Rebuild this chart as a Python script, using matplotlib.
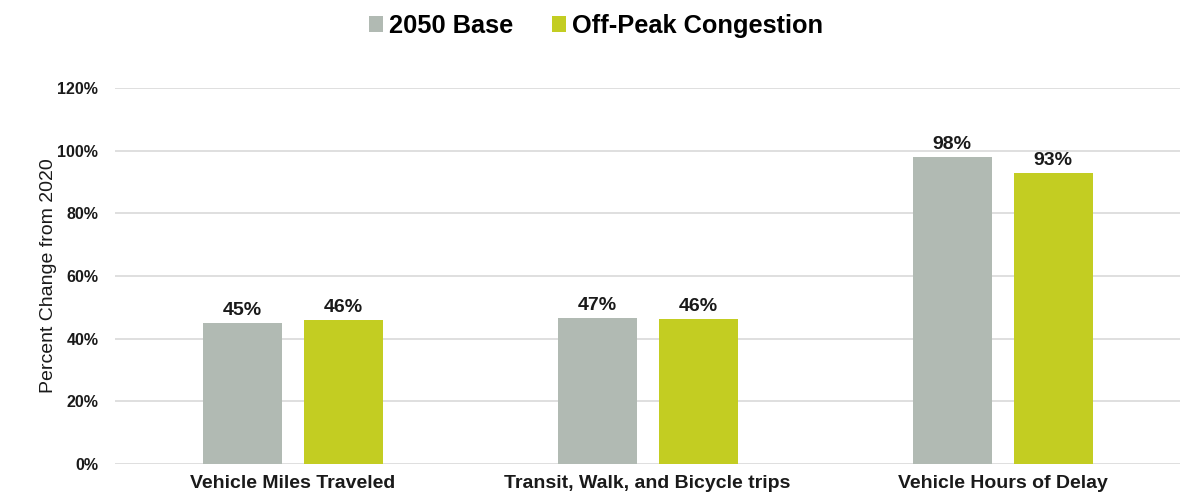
import matplotlib.pyplot as plt
import numpy as np

plt.rcParams['font.family'] = ['Liberation Sans', 'DejaVu Sans']

categories = ['Vehicle Miles Traveled', 'Transit, Walk, and Bicycle trips', 'Vehicle Hours of Delay']
base_2050 = [0.45, 0.467, 0.98]
off_peak = [0.46, 0.463, 0.93]
series_names = ['2050 Base', 'Off-Peak Congestion']
series_colors = ['#B1BAB3', '#C3CD22']
yticks = [0, 0.2, 0.4, 0.6, 0.8, 1.0, 1.2]

fig = plt.figure(figsize=(11.92, 4.99), dpi=100)
ax = fig.add_axes([0.0965, 0.0701, 0.8935, 0.7535])

x = np.arange(len(categories))
width = 0.2225
offset = 0.1423

for vals, name, color, sign in zip([base_2050, off_peak], series_names, series_colors, [-1, 1]):
    bars = ax.bar(x + sign * offset, vals, width, color=color, label=name, zorder=3)
    for b, v in zip(bars, vals):
        ax.text(b.get_x() + b.get_width() / 2, v + 0.013, f'{round(v * 100):.0f}%',
                ha='center', va='bottom', fontsize=14, fontweight='bold', color='#1a1a1a')

ax.set_xlim(-0.5, 2.5)
ax.set_ylim(0, 1.2)
ax.set_yticks(yticks)
ax.set_yticklabels([f'{int(round(t * 100))}%' for t in yticks], fontsize=11.5, fontweight='bold')
ax.set_xticks(x)
ax.set_xticklabels(categories, fontsize=14, fontweight='bold')
ax.tick_params(axis='both', length=0, colors='#1a1a1a')
ax.tick_params(axis='y', pad=12)
ax.tick_params(axis='x', pad=8)
ax.grid(axis='y', color='#D9D9D9', linewidth=1.2, zorder=0)
for s in ax.spines.values():
    s.set_visible(False)
ax.set_ylabel('Percent Change from 2020', fontsize=14, color='#1a1a1a', labelpad=0)

fig.legend(loc='upper center', bbox_to_anchor=(0.5, 1.018), ncol=2, frameon=False,
           prop={'size': 18.3, 'weight': 'bold'}, handlelength=0.55, handleheight=0.55,
           handletextpad=0.25, columnspacing=1.5)

fig.savefig('out.png', dpi=100)
